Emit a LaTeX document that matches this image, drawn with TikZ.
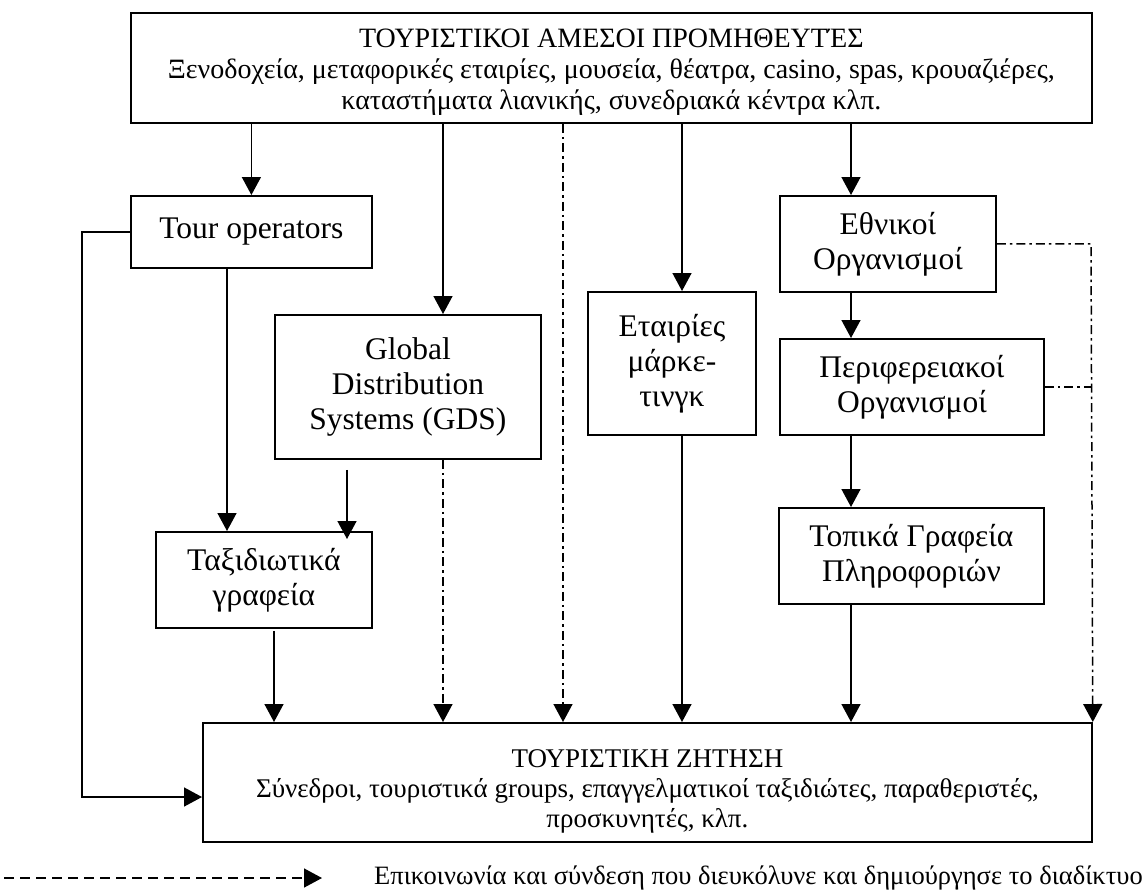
\documentclass[tikz,border=0pt]{standalone}
\usepackage{fontspec}
\setmainfont{Liberation Serif}
\usetikzlibrary{arrows.meta}
\tikzset{
  box/.style={draw, line width=1.8pt, inner sep=0pt, anchor=north west, align=center,
              font=\fontsize{31.5}{35}\selectfont},
  frame/.style={draw, line width=1.8pt, inner sep=0pt, anchor=north west},
  arr/.style={line width=1.5pt, -{Triangle[width=19pt,length=18pt]}},
  dd/.style={line width=1.5pt, dash pattern=on 9pt off 4pt on 2.5pt off 4pt},
  dda/.style={dd, -{Triangle[width=19pt,length=18pt]}},
  leg/.style={line width=1.5pt, dash pattern=on 10pt off 6pt, -{Triangle[width=19pt,length=18pt]}},
  bigtxt/.style={font=\fontsize{28}{31}\selectfont, inner sep=0pt, align=center},
  midtxt/.style={font=\fontsize{27}{30}\selectfont, inner sep=0pt, align=center},
  legtext/.style={font=\fontsize{26.5}{30}\selectfont, inner sep=0pt}
}
\begin{document}
\begin{tikzpicture}[x=1pt,y=-1pt]
\useasboundingbox (0,0) rectangle (1147,892);
% boxes
\node[frame, minimum width=961pt, minimum height=110pt] (top) at (130,12) {};
\node[bigtxt] (toptxt) at ([yshift=-4pt]top.center)
  {ΤΟΥΡΙΣΤΙΚΟΙ ΑΜΕΣΟΙ ΠΡΟΜΗΘΕΥΤΈΣ\\Ξενοδοχεία, μεταφορικές εταιρίες, μουσεία, θέατρα, casino, spas, κρουαζιέρες,\\καταστήματα λιανικής, συνεδριακά κέντρα κλπ.};
\node[box, minimum width=241pt, minimum height=72pt] (tour) at (130,195) {Tour operators};
\node[box, minimum width=266pt, minimum height=144pt] (gds) at (274,314) {Global\\Distribution\\Systems (GDS)};
\node[box, minimum width=168pt, minimum height=143pt] (mkt) at (587,291) {Εταιρίες\\μάρκε-\\τινγκ};
\node[box, minimum width=216pt, minimum height=96pt] (eth) at (779,195) {Εθνικοί\\Οργανισμοί};
\node[box, minimum width=264pt, minimum height=96pt] (per) at (779,338) {Περιφερειακοί\\Οργανισμοί};
\node[box, minimum width=265pt, minimum height=96pt] (top2) at (778,507) {Τοπικά Γραφεία\\Πληροφοριών};
\node[box, minimum width=216pt, minimum height=96pt] (trav) at (155,531) {Ταξιδιωτικά\\γραφεία};
\node[frame, minimum width=889pt, minimum height=119pt] (dem) at (202,722) {};
\node[midtxt] (demtxt) at ([yshift=-9pt]dem.center)
  {ΤΟΥΡΙΣΤΙΚΗ ΖΗΤΗΣΗ\\Σύνεδροι, τουριστικά groups, επαγγελματικοί ταξιδιώτες, παραθεριστές,\\προσκυνητές, κλπ.};
% helper coordinates
\coordinate (xg) at (443,0);
\coordinate (xm) at (682,0);
\coordinate (xe) at (851,0);
\coordinate (xd) at (563,0);
\coordinate (xt) at (227,0);
\coordinate (xs) at (347,0);
\coordinate (xa) at (274,0);
\coordinate (xr) at (1091,0);
\coordinate (xl) at (82,0);
\coordinate (yl) at (0,797);
% solid arrows
\draw[arr] (top.south -| tour.north) -- (tour.north);
\draw[arr] (top.south -| xg) -- (gds.north -| xg);
\draw[arr] (top.south -| xm) -- (mkt.north -| xm);
\draw[arr] (top.south -| xe) -- (eth.north -| xe);
\draw[arr] (tour.south -| xt) -- (trav.north -| xt);
\draw[arr] ([yshift=-10pt]gds.south -| xs) -- ([yshift=-8pt]trav.north -| xs);
\draw[arr] ([yshift=-2pt]trav.south -| xa) -- (dem.north -| xa);
\draw[arr] (mkt.south -| xm) -- (dem.north -| xm);
\draw[arr] (eth.south -| xe) -- (per.north -| xe);
\draw[arr] (per.south -| xe) -- (top2.north -| xe);
\draw[arr] (top2.south -| xe) -- (dem.north -| xe);
\draw[arr] (tour.west) -- (tour.west -| xl) -- (xl |- yl) -- (dem.west |- yl);
% dash-dot connections
\draw[dda] (top.south -| xd) -- (dem.north -| xd);
\draw[dda] (gds.south -| xg) -- (dem.north -| xg);
\draw[dda] (eth.east) -- (eth.east -| xr) -- (dem.north east);
\draw[dd] (per.east) -- (per.east -| xr);
% legend
\coordinate (l1) at (4,878);
\coordinate (l2) at (322,878);
\draw[leg] (l1) -- (l2);
\node[legtext, anchor=east] (legtxt) at (1143,878) {Επικοινωνία και σύνδεση που διευκόλυνε και δημιούργησε το διαδίκτυο};
\end{tikzpicture}
\end{document}
